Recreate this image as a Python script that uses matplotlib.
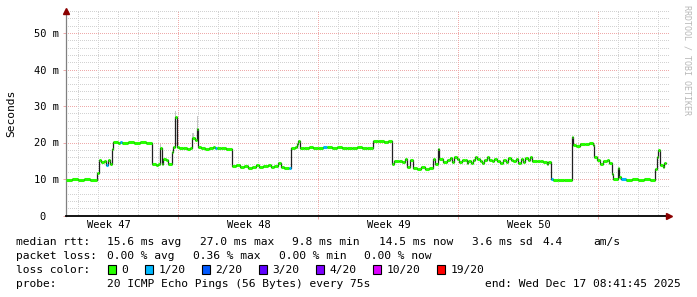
import matplotlib
matplotlib.use("Agg")
import matplotlib.pyplot as plt
from matplotlib.patches import Rectangle

W, H = 697, 297

# time in days from the left edge of the graph, median rtt in ms
t = [0.00, 0.30, 0.60, 0.90, 1.20, 1.55, 1.65, 1.75, 1.90, 2.00, 2.10, 2.20, 2.28,
     2.35, 2.60, 2.70, 2.80, 3.10, 3.40, 3.70, 4.00, 4.30, 4.50, 4.60, 4.70, 4.78,
     4.85, 5.00, 5.10, 5.28, 5.35, 5.45, 5.53, 5.65, 5.85, 6.05, 6.20, 6.32, 6.45,
     6.53, 6.59, 6.75, 6.95, 7.15, 7.35, 7.45, 7.55, 7.75, 8.00, 8.28, 8.50, 8.70,
     8.90, 9.10, 9.30, 9.50, 9.65, 9.85, 10.10, 10.25, 10.40, 10.60, 10.75, 10.90,
     11.15, 11.25, 11.45, 11.53, 11.60, 11.70, 11.90, 12.15, 12.35, 12.60, 12.83,
     13.05, 13.30, 13.55, 13.80, 14.05, 14.30, 14.55, 14.80, 15.05, 15.33, 15.60,
     15.90, 16.10, 16.31, 16.40, 16.65, 16.80, 16.95, 17.04, 17.20, 17.35, 17.55,
     17.75, 17.95, 18.15, 18.34, 18.45, 18.59, 18.65, 18.87, 19.04, 19.20, 19.32,
     19.42, 19.54, 19.65, 19.79, 19.95, 20.04, 20.12, 20.25, 20.37, 20.45, 20.57,
     20.70, 20.79, 20.92, 21.04, 21.15, 21.29, 21.42, 21.54, 21.70, 21.87, 21.99,
     22.12, 22.25, 22.37, 22.49, 22.62, 22.75, 22.87, 22.95, 23.09, 23.20, 23.32,
     23.54, 23.70, 23.87, 24.04, 24.12, 24.25, 24.35, 24.60, 24.90, 25.29, 25.37,
     25.50, 25.70, 25.95, 26.15, 26.37, 26.42, 26.57, 26.70, 26.84, 27.04, 27.17,
     27.29, 27.37, 27.59, 27.67, 27.75, 28.00, 28.30, 28.60, 28.90, 29.20, 29.45,
     29.54, 29.62, 29.70, 29.84, 29.90, 29.98]
median = [9.7, 9.9, 9.8, 9.9, 9.8, 11.6, 15.1, 14.7, 14.8, 13.7, 15.1, 14.0, 18.3,
          20.1, 20.0, 20.1, 19.9, 20.1, 20.0, 20.1, 20.0, 14.0, 13.8, 14.1, 18.6, 14.0,
          15.6, 15.3, 14.2, 17.4, 18.8, 27.0, 18.8, 18.4, 18.6, 18.3, 18.5, 21.3, 20.6,
          23.8, 18.7, 18.5, 18.3, 18.6, 18.9, 18.5, 18.4, 18.6, 18.3, 13.5, 13.7, 13.4,
          13.6, 13.1, 13.3, 13.8, 13.2, 13.5, 13.8, 13.2, 13.6, 14.5, 13.3, 13.0,
          13.0, 18.5, 18.9, 19.7, 20.4, 18.6, 18.5, 18.7, 18.4, 18.6, 18.7,
          18.8, 18.5, 18.7, 18.4, 18.6, 18.5, 18.7, 18.4, 18.6, 20.3, 20.4,
          20.2, 20.3, 14.2, 14.8, 15.0, 14.6, 15.6, 13.2, 15.1, 13.0, 12.8,
          13.2, 12.7, 13.0, 15.6, 14.2, 18.3, 15.6, 14.6, 15.3, 15.8, 14.6,
          16.0, 15.4, 14.6, 15.1, 15.2, 14.5, 15.0, 14.4, 15.3, 16.0, 15.5,
          15.0, 14.4, 15.2, 16.0, 15.3, 14.8, 15.6, 15.0, 14.5, 15.3, 14.6,
          15.8, 15.2, 14.8, 15.5, 14.5, 15.6, 14.6, 15.8, 15.2, 16.0, 15.0,
          15.0, 14.8, 14.6, 14.1, 14.6, 9.9, 9.8, 9.7, 9.8, 21.5, 19.2,
          19.0, 19.7, 19.5, 19.8, 19.2, 16.0, 15.1, 14.2, 14.8, 15.1, 14.5,
          11.4, 9.9, 13.0, 10.5, 9.9, 9.8, 9.9, 9.8, 9.9, 9.8, 12.8,
          16.0, 17.9, 13.7, 13.2, 14.5, 14.5]
lost_at = [2.00, 2.70, 7.45, 11.15, 12.83, 24.25, 27.75]   # 1/20 packet loss

smoke_t = [4.70, 5.45, 6.32, 6.53]
smoke_hi = [19.6, 28.6, 22.6, 27.2]

week_pos = [2.15, 9.15, 16.15, 23.15]
week_labels = ["Week 47", "Week 48", "Week 49", "Week 50"]
week_bounds = [5.6, 12.6, 19.6, 26.6]
y_ticks = [0, 10, 20, 30, 40, 50]
y_labels = ["0  ", "10 m", "20 m", "30 m", "40 m", "50 m"]

loss_names = ["0", "1/20", "2/20", "3/20", "4/20", "10/20", "19/20"]
loss_colors = ["#26ff00", "#00b8ff", "#0059ff", "#5e00ff", "#7e00ff", "#dd00ff", "#ff0000"]

MONO = "DejaVu Sans Mono"
MINOR = "#d2d2d2"
MAJOR = "#eeaaaa"

fig = plt.figure(figsize=(W / 100, H / 100), dpi=100)
fig.patch.set_facecolor("white")
ax = fig.add_axes([66 / W, (H - 215.5) / H, 603 / W, (215.5 - 11.1) / H])
ax.set_xlim(0, 30.15)
ax.set_ylim(0, 56)

# dotted grid, 1 px on / 2 px off
dot = dict(lw=0.72, ls=(0, (1, 2)), antialiased=False, zorder=0)
for v in range(2, 57, 2):
    if v % 10:
        ax.axhline(v, color=MINOR, **dot)
for v in y_ticks[1:]:
    ax.axhline(v, color=MAJOR, **dot)
for k in range(30):
    d = 0.6 + k
    if round(d, 1) not in week_bounds:
        ax.axvline(d, color=MINOR, **dot)
for d in week_bounds:
    ax.axvline(d, color=MAJOR, **dot)

# smoke
for st, sh in zip(smoke_t, smoke_hi):
    i = t.index(st)
    ax.bar(st, sh - median[i], bottom=median[i], width=0.07, align="edge",
           color="#b0b0b0", alpha=0.7, zorder=1)

# median line: dark steps, coloured by loss
ax.step(t, median, where="post", color="#202020", lw=0.9, zorder=2)
cols = [loss_colors[1] if x in lost_at else loss_colors[0] for x in t[:-1]]
ax.hlines(median[:-1], t[:-1], t[1:], colors=cols, lw=2.2, zorder=3)

# axes
for s in ["top", "right"]:
    ax.spines[s].set_visible(False)
ax.spines["left"].set_color("#808080")
ax.spines["left"].set_linewidth(0.9)
ax.spines["bottom"].set_color("#000000")
ax.spines["bottom"].set_linewidth(1.3)
ax.plot([0], [1.0], marker="^", ms=4, color="#8b0000", transform=ax.transAxes,
        clip_on=False, zorder=5)
ax.plot([1.0], [0], marker=">", ms=4, color="#8b0000", transform=ax.transAxes,
        clip_on=False, zorder=5)

ax.set_yticks(y_ticks)
ax.set_yticklabels(y_labels, family=MONO, fontsize=7.5)
ax.set_xticks(week_pos)
ax.set_xticklabels(week_labels, family=MONO, fontsize=7.5)
ax.set_xticks(week_bounds, minor=True)
ax.tick_params(axis="y", length=2, width=0.72, color=MAJOR, pad=2.9)
ax.tick_params(axis="x", which="major", length=0, pad=3.0)
ax.tick_params(axis="x", which="minor", length=2.5, width=0.72, color=MAJOR)

fig.text(11 / W, 1 - 113.5 / H, "Seconds", rotation=90, ha="center", va="center",
         family=MONO, fontsize=8.1)
fig.text(686.7 / W, 1 - 5 / H, "RRDTOOL / TOBI OETIKER", rotation=270, ha="center",
         va="top", family=MONO, fontsize=6, color="#b8b8b8")


def ftext(x, y, s, **kw):
    fig.text(x / W, 1 - y / H, s, family=MONO, fontsize=8.1, va="baseline", **kw)


ftext(16, 244.7, "median rtt:")
for s, x in [("15.6 ms avg", 107.3), ("27.0 ms max", 200.0), ("9.8 ms min", 292.0),
             ("14.5 ms now", 379.0), ("3.6 ms sd", 471.7), ("4.4", 542.7), ("am/s", 593.3)]:
    ftext(x, 244.7, s)

ftext(16, 258.7, "packet loss:")
for s, x in [("0.00 % avg", 107.3), ("0.36 % max", 193.3), ("0.00 % min", 278.6),
             ("0.00 % now", 363.8)]:
    ftext(x, 258.7, s)

ftext(16, 272.7, "loss color:")
x = 108.3
for name, c in zip(loss_names, loss_colors):
    fig.patches.append(Rectangle((x / W, 1 - 274.3 / H), 8 / W, 9.3 / H,
                                 transform=fig.transFigure, facecolor=c,
                                 edgecolor="black", lw=0.8))
    ftext(x + 13.3, 272.7, name)
    x = x + 13.3 + len(name) * 6.77 + 16.7

ftext(16, 286.7, "probe:")
ftext(107.3, 286.7, "20 ICMP Echo Pings (56 Bytes) every 75s")
ftext(681, 286.7, "end: Wed Dec 17 08:41:45 2025", ha="right")

fig.savefig("out.png", dpi=100, facecolor="white")
